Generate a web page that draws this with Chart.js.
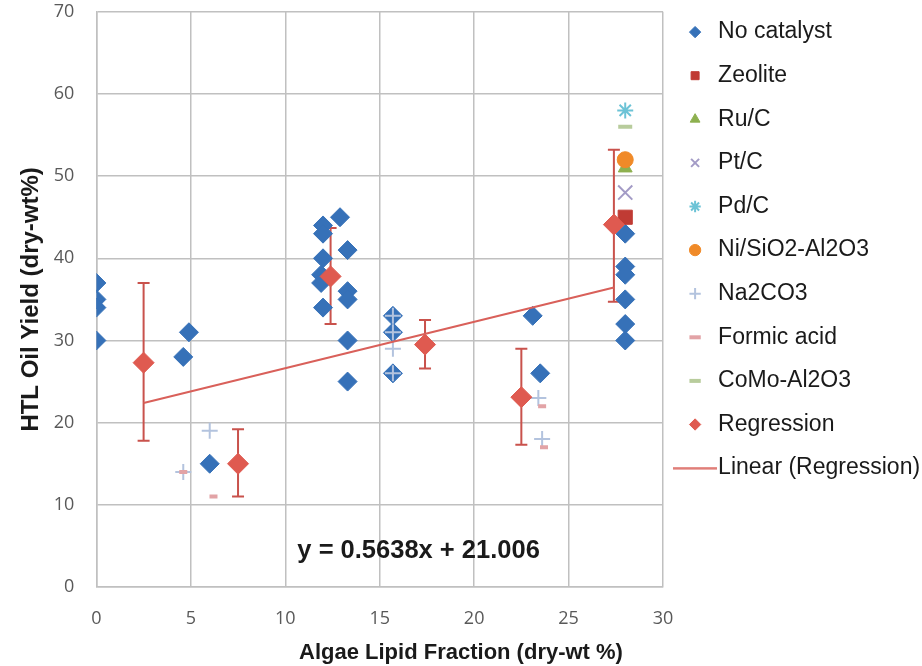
<!DOCTYPE html>
<html>
<head>
<meta charset="utf-8">
<script src="https://cdn.jsdelivr.net/npm/chart.js@4/dist/chart.umd.min.js"></script>
<style>
  html, body { margin: 0; padding: 0; background: #fff; }
</style>
</head>
<body>
<canvas id="yieldChart" width="922" height="666"></canvas>
<script>
// HTL oil yield vs algae lipid fraction, by catalyst
const noCatX = [0, 0, 0, 0, 4.6, 4.9, 6.0, 11.9, 11.9, 12.0, 12.0, 12.0, 12.0, 12.9, 13.3, 13.3, 13.3, 13.3, 13.3, 15.7, 15.7, 15.7, 23.1, 23.5, 28, 28, 28, 28, 28, 28];
const noCatY = [37, 35, 34, 30, 28, 31, 15, 38, 37, 44, 43, 40, 34, 45, 41, 36, 35, 30, 25, 33, 31, 26, 33, 26, 43, 39, 38, 35, 32, 30];
const zeoliteX = [28];
const zeoliteY = [45];
const ruX = [28];
const ruY = [51];
const ptX = [28];
const ptY = [48];
const pdX = [28];
const pdY = [58];
const niX = [28];
const niY = [52];
const na2co3X = [4.6, 6.0, 15.7, 15.7, 15.7, 15.7, 23.4, 23.6];
const na2co3Y = [14, 19, 33, 31, 29, 26, 23, 18];
const formicX = [4.6, 6.2, 23.6, 23.7];
const formicY = [14, 11, 22, 17];
const comoX = [28];
const comoY = [56];
const regX = [2.5, 7.5, 12.4, 17.4, 22.5, 27.4];
const regY = [27.3, 15.0, 37.8, 29.5, 23.1, 44.1];
const regLow = [17.8, 11.0, 32.0, 26.6, 17.3, 34.7];
const regHigh = [37.0, 19.2, 43.7, 32.5, 29.0, 53.2];
const trendX = [2.5, 27.4];
const trendY = [22.4, 36.45];
const eqText = 'y = 0.5638x + 21.006';
const eqPos = {x: 17.06, y: 4.4};

function pts(xs, ys) {
  return xs.map(function (x, i) { return {x: x, y: ys[i]}; });
}

// legend swatch for the trend line (a plain short line)
function lineSwatch(color) {
  const c = document.createElement('canvas');
  c.width = 44;
  c.height = 3;
  const g = c.getContext('2d');
  g.fillStyle = color;
  g.fillRect(0, 0.5, 44, 2);
  return c;
}

const errorBars = {
  id: 'errorBars',
  beforeDatasetsDraw(chart) {
    const xs = chart.scales.x, ys = chart.scales.y;
    const c = chart.ctx;
    c.save();
    c.strokeStyle = '#c9524c';
    c.lineWidth = 2;
    regX.forEach(function (x, i) {
      const px = xs.getPixelForValue(x);
      const top = ys.getPixelForValue(regHigh[i]);
      const bot = ys.getPixelForValue(regLow[i]);
      c.beginPath();
      c.moveTo(px, top); c.lineTo(px, bot);
      c.moveTo(px - 6, top); c.lineTo(px + 6, top);
      c.moveTo(px - 6, bot); c.lineTo(px + 6, bot);
      c.stroke();
    });
    c.restore();
  }
};

const eqLabel = {
  id: 'eqLabel',
  afterDraw(chart) {
    const c = chart.ctx;
    c.save();
    c.font = 'bold 25.5px "Liberation Sans", Arial, sans-serif';
    c.fillStyle = '#1a1a1a';
    c.textAlign = 'center';
    c.textBaseline = 'middle';
    c.fillText(eqText, chart.scales.x.getPixelForValue(eqPos.x), chart.scales.y.getPixelForValue(eqPos.y));
    c.restore();
  }
};

const series = [
  {label: 'No catalyst', data: pts(noCatX, noCatY), pointStyle: 'rectRot', pointRadius: 9.5, backgroundColor: '#3671b8', borderColor: '#3671b8', borderWidth: 1},
  {label: 'Zeolite', data: pts(zeoliteX, zeoliteY), pointStyle: 'rect', pointRadius: 10, backgroundColor: '#c03b34', borderColor: '#c03b34', borderWidth: 1},
  {label: 'Ru/C', data: pts(ruX, ruY), pointStyle: 'triangle', pointRadius: 8, backgroundColor: '#8db04f', borderColor: '#8db04f', borderWidth: 1},
  {label: 'Pt/C', data: pts(ptX, ptY), pointStyle: 'crossRot', pointRadius: 10, backgroundColor: '#a39bc6', borderColor: '#a39bc6', borderWidth: 2},
  {label: 'Pd/C', data: pts(pdX, pdY), pointStyle: 'star', pointRadius: 8, backgroundColor: '#6cc3d6', borderColor: '#6cc3d6', borderWidth: 2},
  {label: 'Ni/SiO2-Al2O3', data: pts(niX, niY), pointStyle: 'circle', pointRadius: 8, backgroundColor: '#f08a28', borderColor: '#f08a28', borderWidth: 1},
  {label: 'Na2CO3', data: pts(na2co3X, na2co3Y), pointStyle: 'cross', pointRadius: 8, backgroundColor: '#b3c3de', borderColor: '#b3c3de', borderWidth: 2},
  {label: 'Formic acid', data: pts(formicX, formicY), pointStyle: 'line', pointRadius: 4, backgroundColor: '#e2a3a6', borderColor: '#e2a3a6', borderWidth: 4},
  {label: 'CoMo-Al2O3', data: pts(comoX, comoY), pointStyle: 'line', pointRadius: 7, backgroundColor: '#b8cc9c', borderColor: '#b8cc9c', borderWidth: 4},
  {label: 'Regression', data: pts(regX, regY), pointStyle: 'rectRot', pointRadius: 10.5, backgroundColor: '#df5a50', borderColor: '#df5a50', borderWidth: 1},
  {label: 'Linear (Regression)', type: 'line', data: pts(trendX, trendY), showLine: true, pointRadius: 0, pointStyle: lineSwatch('#d9605a'), borderColor: '#d9605a', backgroundColor: '#d9605a', borderWidth: 2, fill: false}
];
// later series sit on top, like the original
series.forEach(function (s, i) { s.order = -i; });

const gridColor = '#c0c0c0';

new Chart(document.getElementById('yieldChart'), {
  type: 'scatter',
  data: {datasets: series},
  plugins: [errorBars, eqLabel],
  options: {
    responsive: false,
    animation: false,
    layout: {padding: 0, autoPadding: false},
    font: {family: '"Liberation Sans", Arial, sans-serif'},
    scales: {
      x: {
        type: 'linear',
        min: 0,
        max: 30,
        ticks: {stepSize: 5, padding: 1, color: '#595959', font: {family: '"Open Sans"', size: 18}},
        grid: {color: gridColor, lineWidth: 1.5, tickLength: 20, tickColor: 'rgba(0,0,0,0)'},
        border: {color: gridColor, width: 1.5}
      },
      y: {
        min: 0,
        max: 70,
        ticks: {stepSize: 10, padding: 1, color: '#595959', font: {family: '"Open Sans"', size: 18}},
        grid: {color: gridColor, lineWidth: 1.5, tickLength: 21, tickColor: 'rgba(0,0,0,0)'},
        border: {color: gridColor, width: 1.5},
        title: {
          display: true,
          text: 'HTL Oil Yield (dry-wt%)',
          color: '#1a1a1a',
          font: {family: '"Liberation Sans", Arial, sans-serif', size: 24, weight: 'bold'},
          padding: {top: 17, bottom: 7}
        }
      }
    },
    plugins: {
      title: {
        display: true,
        position: 'bottom',
        text: 'Algae Lipid Fraction (dry-wt %)',
        color: '#1a1a1a',
        font: {family: '"Liberation Sans", Arial, sans-serif', size: 22, weight: 'bold'},
        padding: {top: 9, bottom: 0}
      },
      legend: {
        position: 'right',
        align: 'start',
        maxWidth: 259,
        labels: {
          usePointStyle: true,
          boxHeight: 8,
          padding: 20.6,
          color: '#1a1a1a',
          font: {family: '"Liberation Sans", Arial, sans-serif', size: 23},
          sort: function (a, b) { return a.datasetIndex - b.datasetIndex; }
        }
      },
      tooltip: {enabled: false}
    }
  }
});
</script>
</body>
</html>
